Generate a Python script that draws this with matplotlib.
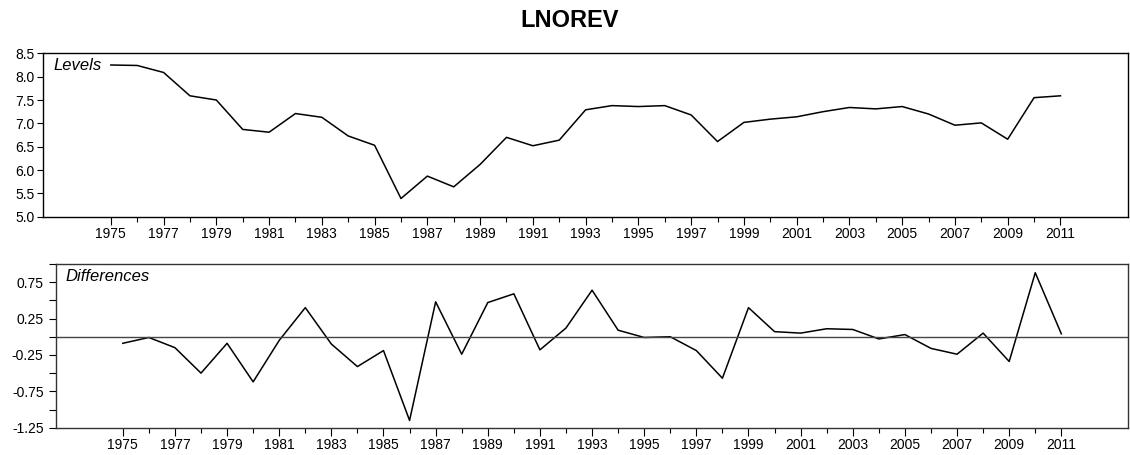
import matplotlib
matplotlib.use("Agg")
import matplotlib.pyplot as plt
from matplotlib.ticker import FixedLocator, FormatStrFormatter

plt.rcParams["font.family"] = ["Liberation Sans", "DejaVu Sans"]
plt.rcParams["axes.unicode_minus"] = False

years = list(range(1975, 2012))

levels = [8.25, 8.24, 8.09, 7.59, 7.50, 6.87, 6.81, 7.21, 7.13, 6.73,
          6.53, 5.39, 5.87, 5.64, 6.12, 6.70, 6.52, 6.64, 7.29, 7.38,
          7.36, 7.38, 7.18, 6.61, 7.02, 7.09, 7.14, 7.25, 7.34, 7.31,
          7.36, 7.20, 6.96, 7.01, 6.66, 7.55, 7.59]

differences = [-0.09, -0.01, -0.15, -0.50, -0.09, -0.62, -0.05, 0.40, -0.10, -0.41,
               -0.19, -1.15, 0.48, -0.24, 0.47, 0.59, -0.18, 0.12, 0.64, 0.09,
               -0.01, 0.00, -0.19, -0.57, 0.40, 0.07, 0.05, 0.11, 0.10, -0.03,
               0.03, -0.16, -0.24, 0.05, -0.34, 0.88, 0.04]

label_years = list(range(1975, 2012, 2))
other_years = list(range(1976, 2011, 2))

fig = plt.figure(figsize=(11.3, 4.55), dpi=100)
fig.text(0.504, 0.955, "LNOREV", ha="center", va="center",
         fontsize=17, fontweight="bold")

ax1 = fig.add_axes([0.0383, 0.5237, 0.9599, 0.3591])
ax2 = fig.add_axes([0.0496, 0.060, 0.9487, 0.3598])


def style_years(ax):
    ax.set_xlim(1972.44, 2013.56)
    ax.xaxis.set_major_locator(FixedLocator(label_years))
    ax.xaxis.set_minor_locator(FixedLocator(other_years))
    ax.xaxis.set_major_formatter(FormatStrFormatter("%d"))
    ax.tick_params(axis="x", which="major", length=6, width=0.8, pad=1.5, labelsize=10)
    ax.tick_params(axis="x", which="minor", length=3.3, width=0.8)
    for s in ax.spines.values():
        s.set_linewidth(1.0)


# levels panel
ax1.plot(years, levels, color="black", lw=1.1)
style_years(ax1)
ax1.set_ylim(5.0, 8.5)
ax1.yaxis.set_major_locator(FixedLocator([5.0, 5.5, 6.0, 6.5, 7.0, 7.5, 8.0, 8.5]))
ax1.yaxis.set_major_formatter(FormatStrFormatter("%.1f"))
ax1.tick_params(axis="y", length=4, width=0.8, pad=2, labelsize=10)
ax1.text(0.009, 0.925, "Levels", transform=ax1.transAxes, fontsize=12,
         fontstyle="italic", va="center", ha="left")

# differences panel
ax2.plot(years, differences, color="black", lw=1.1)
ax2.axhline(0, color="#444444", lw=1.0)
style_years(ax2)
ax2.set_ylim(-1.25, 1.0)
ax2.yaxis.set_major_locator(FixedLocator([-1.25, -0.75, -0.25, 0.25, 0.75]))
ax2.yaxis.set_minor_locator(FixedLocator([-1.0, -0.5, 0.0, 0.5, 1.0]))
ax2.yaxis.set_major_formatter(FormatStrFormatter("%.2f"))
ax2.tick_params(axis="y", which="both", length=5, width=0.8, pad=4, labelsize=10)
for s in ax2.spines.values():
    s.set_color("#333333")
ax2.text(0.0085, 0.925, "Differences", transform=ax2.transAxes, fontsize=12,
         fontstyle="italic", va="center", ha="left")

fig.savefig("out.png", dpi=100)
